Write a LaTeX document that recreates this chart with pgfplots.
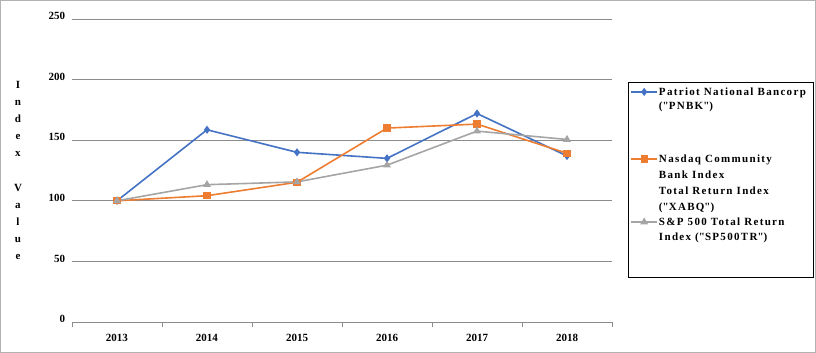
\documentclass[border=0pt]{standalone}
\usepackage{pgfplots}
\pgfplotsset{compat=1.18}
\usepackage{fontspec}
\setmainfont{Liberation Serif}
\definecolor{pblue}{HTML}{4472C4}
\definecolor{porange}{HTML}{ED7D31}
\definecolor{pgray}{HTML}{A5A5A5}
\definecolor{gridc}{HTML}{8C8C8C}
\newcommand{\q}{\textquotedbl}
\begin{document}
\begin{tikzpicture}[x=1pt,y=1pt]
\useasboundingbox (-72,-31) rectangle (744,322);
\draw[gray!60, line width=1.2pt] (-71.4,-30.4) rectangle (743.4,321.4);
\begin{axis}[
  at={(0,0)}, anchor=south west,
  scale only axis, width=540pt, height=303pt,
  xmin=-0.5, xmax=5.5, ymin=0, ymax=250,
  xtick={0,1,2,3,4,5},
  xticklabels={2013,2014,2015,2016,2017,2018},
  minor xtick={-0.5,0.5,1.5,2.5,3.5,4.5,5.5},
  major x tick style={draw=none},
  minor x tick style={draw=gridc, line width=0.8pt},
  tick align=outside,
  minor tick length=5pt,
  ytick={0,50,100,150,200,250},
  ytick style={draw=none},
  ymajorgrids,
  grid style={draw=gridc, line width=0.8pt},
  axis x line*=bottom,
  axis y line*=left,
  y axis line style={draw=none},
  x axis line style={draw=gridc, line width=0.8pt, -},
  ticklabel style={font=\fontsize{11}{13}\selectfont\bfseries},
  xticklabel style={yshift=-4pt},
  yticklabel style={yshift=3pt, xshift=1pt},
  /pgf/number format/assume math mode=true,
  ylabel={\begin{tabular}{@{}c@{}}I\\n\\d\\e\\x\\[18pt]V\\a\\l\\u\\e\end{tabular}},
  ylabel style={rotate=-90, font=\fontsize{11}{17}\selectfont\bfseries,
     at={(axis description cs:-0.1,0.5)}, anchor=center},
  legend style={at={(axis description cs:1.0296,0.7921)}, anchor=north west,
     draw=black, line width=0.8pt, inner xsep=2pt, inner ysep=1pt,
     font=\fontsize{11}{14}\selectfont\bfseries\addfontfeatures{LetterSpace=12},
     nodes={inner sep=1pt, text depth=}, row sep=0pt, column sep=0pt,
     cells={anchor=base west}},
  legend image code/.code={
     \draw[mark repeat=2,mark phase=2] plot coordinates {(0pt,3.5pt) (13pt,3.5pt) (26pt,3.5pt)};},
]
\addplot[pblue, line width=1.6pt, mark=diamond*, mark size=2.8pt, mark options={solid}]
  coordinates {(0,100) (1,158.6) (2,140) (3,135) (4,172) (5,137)};
\addlegendentry{\makebox[151pt][l]{Patriot National Bancorp\rule{0pt}{11pt}}}
\addlegendimage{empty legend}
\addlegendentry{(\q PNBK\q)\rule[-41.2pt]{0pt}{51pt}}
\addplot[porange, line width=1.6pt, mark=square*, mark size=2.8pt, mark options={solid}]
  coordinates {(0,100) (1,104.2) (2,115.3) (3,160) (4,163.3) (5,139.2)};
\addlegendentry{Nasdaq Community\strut}
\addlegendimage{empty legend}
\addlegendentry{Bank Index\strut}
\addlegendimage{empty legend}
\addlegendentry{Total Return Index\strut}
\addlegendimage{empty legend}
\addlegendentry{(\q XABQ\q)\rule[-3.2pt]{0pt}{13pt}}
\addplot[pgray, line width=1.6pt, mark=triangle*, mark size=3pt, mark options={solid}]
  coordinates {(0,100) (1,113.3) (2,115.6) (3,129.4) (4,157.5) (5,150.6)};
\addlegendentry{S\&P 500 Total Return\strut}
\addlegendimage{empty legend}
\addlegendentry{Index (\q SP500TR\q)\rule[-35pt]{0pt}{44pt}}
\end{axis}
\end{tikzpicture}
\end{document}
